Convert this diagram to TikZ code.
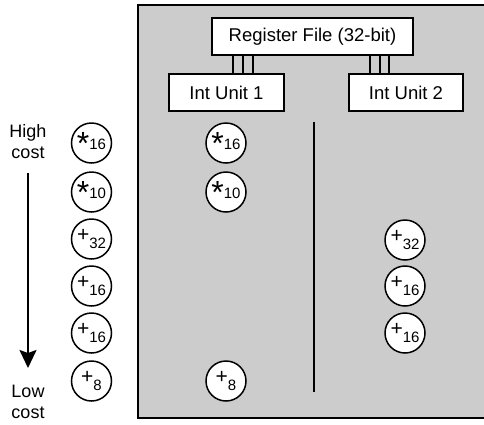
\documentclass[tikz,border=0pt]{standalone}
\usepackage{fontspec}
\setmainfont{Liberation Sans}
\usetikzlibrary{arrows.meta}
\newcommand\mulop[1]{\raisebox{-11pt}{\fontsize{32}{32}\selectfont *}\raisebox{-6pt}{\fontsize{15}{15}\selectfont #1}}
\newcommand\addop[1]{{\fontsize{21}{21}\selectfont +}\raisebox{-6.5pt}{\fontsize{15}{15}\selectfont #1}}
\tikzset{
  unitbox/.style={draw, fill=white, line width=1.5pt, inner sep=0pt, minimum height=37pt, font=\fontsize{18.5}{20}\selectfont},
  opcircle/.style={draw, fill=white, circle, line width=1.5pt, minimum size=40pt, inner sep=0pt},
  bus/.style={line width=2pt},
  costlabel/.style={align=center, inner sep=0pt, font=\fontsize{18}{21}\selectfont}
}
\begin{document}
\begin{tikzpicture}[x=1pt, y=-1pt]
\useasboundingbox (0,0) rectangle (484,424);
\filldraw[fill=black!20, line width=2pt] (138,5) rectangle (492,418);
% boxes
\node[unitbox, minimum width=201pt] (rf) at (312.5,36.5) {Register File (32-bit)};
\node[unitbox, minimum width=115pt] (iu1) at (226.5,92.5) {Int Unit 1};
\node[unitbox, minimum width=114pt] (iu2) at (406,92.5) {Int Unit 2};
% buses
\foreach \d in {6.5,16.5,26.5} {
  \draw[bus] ([xshift=\d pt]iu1.north) -- ([xshift=\d pt]iu1.north |- rf.south);
}
\foreach \d in {-36,-26,-17} {
  \draw[bus] ([xshift=\d pt]iu2.north) -- ([xshift=\d pt]iu2.north |- rf.south);
}
% divider
\coordinate (dtop) at (314,122);
\coordinate (dbot) at (314,392);
\draw[line width=2pt] (dtop) -- (dbot);
% cost labels and arrow
\node[costlabel] (high) at (28,141.4) {High\\cost};
\node[costlabel] (low) at (28,402) {Low\\cost};
\coordinate (atop) at (28,173);
\coordinate (abot) at (28,368);
\draw[line width=2pt, -{Stealth[width=17pt, length=18pt, inset=3pt]}] (atop) -- (abot);
% left column
\node[opcircle] (l1) at (91.5,143) {\mulop{16}};
\node[opcircle] (l2) at (91.5,192) {\mulop{10}};
\node[opcircle] (l3) at (91.5,239) {\addop{32}};
\node[opcircle] (l4) at (91.5,286) {\addop{16}};
\node[opcircle] (l5) at (91.5,333) {\addop{16}};
\node[opcircle] (l6) at (91.5,381) {\addop{8}};
% unit 1 column
\node[opcircle] (m1) at (226,143) {\mulop{16}};
\node[opcircle] (m2) at (226,192) {\mulop{10}};
\node[opcircle] (m3) at (226,381) {\addop{8}};
% unit 2 column
\node[opcircle] (r1) at (405,240) {\addop{32}};
\node[opcircle] (r2) at (405,286) {\addop{16}};
\node[opcircle] (r3) at (405,333) {\addop{16}};
\end{tikzpicture}
\end{document}
